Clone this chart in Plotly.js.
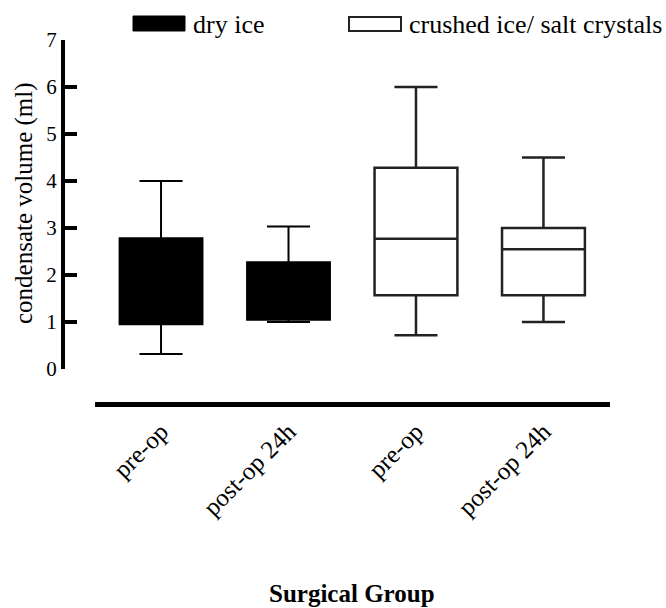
<!DOCTYPE html>
<html><head><meta charset="utf-8">
<script src="https://cdn.plot.ly/plotly-3.0.1.min.js"></script>
<style>html,body{margin:0;padding:0;background:#fff}#chart{width:666px;height:608px}</style>
</head><body><div id="chart"></div>
<script>
// Data (ml)
const groupLabels = ["pre-op", "post-op 24h", "pre-op", "post-op 24h"];
const dryPos = [0, 1];
const dryLower = [0.32, 1.0];
const dryQ1 = [0.95, 1.05];
const dryMedian = [1.8, 1.5];
const dryQ3 = [2.78, 2.27];
const dryUpper = [4.0, 3.03];

const crushPos = [2, 3];
const crushLower = [0.72, 1.0];
const crushQ1 = [1.57, 1.57];
const crushMedian = [2.77, 2.55];
const crushQ3 = [4.28, 3.0];
const crushUpper = [6.0, 4.5];

const yTicks = [0, 1, 2, 3, 4, 5, 6, 7];

const W = 666, H = 608;
const px = v => v / W, py = v => 1 - v / H;
const serif = "Liberation Serif";

const traces = [
  {type: "box", name: "dry ice", x: dryPos, q1: dryQ1, median: dryMedian, q3: dryQ3,
   lowerfence: dryLower, upperfence: dryUpper, width: 0.65, whiskerwidth: 0.52,
   fillcolor: "#000", line: {color: "#000", width: 2}, boxpoints: false, hoverinfo: "skip"},
  {type: "box", name: "crushed ice/ salt crystals", x: crushPos, q1: crushQ1, median: crushMedian, q3: crushQ3,
   lowerfence: crushLower, upperfence: crushUpper, width: 0.65, whiskerwidth: 0.52,
   fillcolor: "#fff", line: {color: "#222", width: 2.5}, boxpoints: false, hoverinfo: "skip"}
];

const layout = {
  width: W, height: H,
  margin: {l: 0, r: 0, t: 0, b: 0},
  paper_bgcolor: "#fff", plot_bgcolor: "rgba(0,0,0,0)",
  showlegend: false, boxmode: "overlay",
  font: {family: serif, color: "#000"},
  xaxis: {
    domain: [px(95), px(610)], range: [-0.518, 3.522],
    anchor: "free", position: py(404),
    showline: true, linewidth: 5, linecolor: "#000", showgrid: false, zeroline: false,
    tickmode: "array", tickvals: [0, 1, 2, 3], ticktext: groupLabels,
    tickangle: -45, ticks: "", tickfont: {size: 25, family: serif}
  },
  yaxis: {
    domain: [py(369), py(40)], range: [0, 7],
    anchor: "free", position: px(63),
    showline: true, linewidth: 4, linecolor: "#000", showgrid: false, zeroline: false,
    tickmode: "array", tickvals: yTicks, ticks: "inside", ticklen: 12, tickwidth: 4, tickcolor: "#000",
    tickfont: {size: 21, family: serif}
  },
  shapes: [
    {type: "rect", xref: "paper", yref: "paper", x0: px(133), x1: px(185), y0: py(31), y1: py(16),
     fillcolor: "#000", line: {color: "#000", width: 1}},
    {type: "rect", xref: "paper", yref: "paper", x0: px(349), x1: px(401), y0: py(31), y1: py(17),
     fillcolor: "#fff", line: {color: "#222", width: 2}}
  ],
  annotations: [
    {text: "dry ice", xref: "paper", yref: "paper", x: px(191), y: py(24), xanchor: "left", yanchor: "middle",
     showarrow: false, font: {size: 26, family: serif}},
    {text: "crushed ice/ salt crystals", xref: "paper", yref: "paper", x: px(407), y: py(24), xanchor: "left", yanchor: "middle",
     showarrow: false, font: {size: 26, family: serif}},
    {text: "condensate volume (ml)", xref: "paper", yref: "paper", x: px(24), y: py(203), xanchor: "center", yanchor: "middle",
     textangle: -90, showarrow: false, font: {size: 25, family: serif}},
    {text: "<b>Surgical Group</b>", xref: "paper", yref: "paper", x: px(352), y: py(593), xanchor: "center", yanchor: "middle",
     showarrow: false, font: {size: 25, family: serif}}
  ]
};

Plotly.newPlot("chart", traces, layout, {staticPlot: true, displayModeBar: false});
</script></body></html>
